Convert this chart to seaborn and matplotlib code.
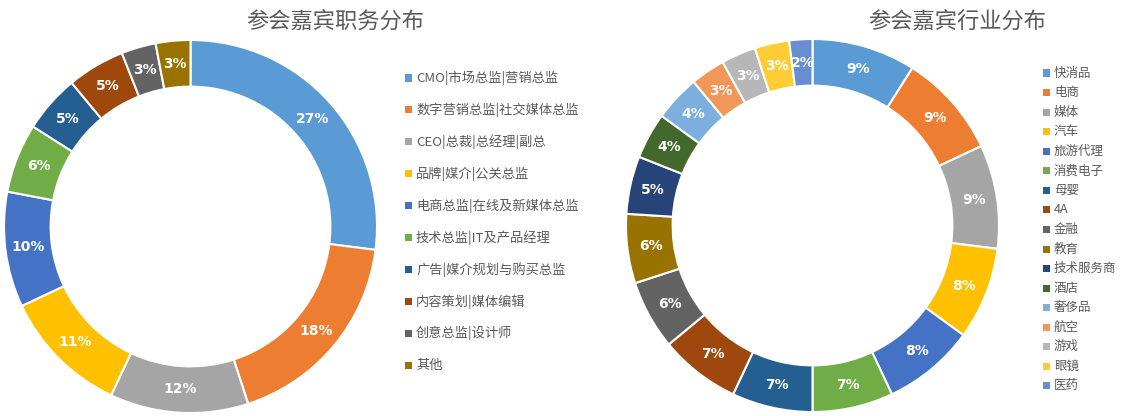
import matplotlib
matplotlib.use("Agg")
import matplotlib.pyplot as plt
import seaborn as sns
from matplotlib.patches import Rectangle

sns.set_theme(style="white")
plt.rcParams['font.family'] = ['Noto Sans CJK SC', 'DejaVu Sans']

# ---- data ----
title_left = "参会嘉宾职务分布"
roles = ["CMO|市场总监|营销总监", "数字营销总监|社交媒体总监", "CEO|总裁|总经理|副总",
         "品牌|媒介|公关总监", "电商总监|在线及新媒体总监", "技术总监|IT及产品经理",
         "广告|媒介规划与购买总监", "内容策划|媒体编辑", "创意总监|设计师", "其他"]
role_pct = [27, 18, 12, 11, 10, 6, 5, 5, 3, 3]

title_right = "参会嘉宾行业分布"
industries = ["快消品", "电商", "媒体", "汽车", "旅游代理", "消费电子", "母婴", "4A", "金融",
              "教育", "技术服务商", "酒店", "奢侈品", "航空", "游戏", "眼镜", "医药"]
industry_pct = [9, 9, 9, 8, 8, 7, 7, 7, 6, 6, 5, 4, 4, 3, 3, 3, 2]

palette = ["#5B9BD5", "#ED7D31", "#A5A5A5", "#FFC000", "#4472C4", "#70AD47",
           "#255E91", "#9E480E", "#636363", "#997300", "#264478", "#43682B",
           "#7CAFDD", "#F1975A", "#B7B7B7", "#FFCD33", "#698ED0"]

W, H = 1122, 416
fig = plt.figure(figsize=(W / 100, H / 100), dpi=100)
fig.patch.set_facecolor("white")


def px_axes(x0, y0, w, h):
    return fig.add_axes([x0 / W, 1 - (y0 + h) / H, w / W, h / H])


def donut(ax, values, colors):
    wedges, _, autotexts = ax.pie(
        values, colors=colors, startangle=90, counterclock=False,
        autopct=lambda p: f"{p:.0f}%", pctdistance=0.875,
        wedgeprops=dict(width=0.25, edgecolor="white", linewidth=1.5),
        textprops=dict(color="white", fontsize=10, fontweight="bold",
                       family=['DejaVu Sans']))
    ax.set_xlim(-1, 1)
    ax.set_ylim(-1, 1)
    ax.set_aspect("equal")
    ax.axis("off")
    return wedges


def legend(labels, colors, x_marker, y_first, step, fontsize):
    for i, (lab, col) in enumerate(zip(labels, colors)):
        y = y_first + i * step
        fig.patches.append(Rectangle(((x_marker - 3.5) / W, 1 - (y + 3.5) / H), 7 / W, 7 / H,
                                     transform=fig.transFigure, facecolor=col,
                                     edgecolor="none"))
        fig.text((x_marker + 8) / W, 1 - y / H, lab, fontsize=fontsize, color="#595959",
                 va="center", ha="left")


ax1 = px_axes(4, 40, 373, 373)
donut(ax1, role_pct, palette[:len(role_pct)])
fig.text(335 / W, 1 - 22 / H, title_left, fontsize=16, color="#595959", ha="center", va="center")
legend(roles, palette[:len(roles)], 408, 78, 31.9, 9.5)

ax2 = px_axes(626, 39, 373, 373)
donut(ax2, industry_pct, palette[:len(industry_pct)])
fig.text(957 / W, 1 - 22 / H, title_right, fontsize=16, color="#595959", ha="center", va="center")
legend(industries, palette[:len(industries)], 1046, 73, 19.56, 9)

fig.savefig("out.png", dpi=100, facecolor="white")
